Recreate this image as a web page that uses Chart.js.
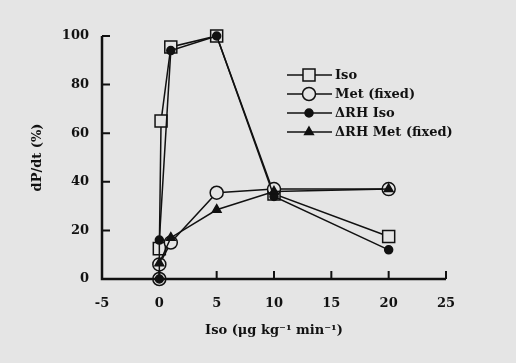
<!DOCTYPE html>
<html>
<head>
<meta charset="utf-8">
<script src="https://cdn.jsdelivr.net/npm/chart.js@4/dist/chart.umd.min.js"></script>
<style>
html,body{margin:0;padding:0;background:#e5e5e5;}
#wrap{width:516px;height:363px;}
</style>
</head>
<body>
<div id="wrap"><canvas id="c" width="516" height="363"></canvas></div>
<script>
// Data
const isoX = [0, 0.15, 1, 5, 10, 20];
const isoY = [12.5, 65, 95.5, 100, 35, 17.5];
const metX = [0, 0, 1, 5, 10, 20];
const metY = [0, 6, 15, 35.5, 37, 37];
const rhIsoX = [0, 0, 1, 5, 10, 20];
const rhIsoY = [0, 16, 94, 100, 34, 12];
const rhMetX = [0, 1, 5, 10, 20];
const rhMetY = [6.5, 17, 28.5, 36, 37];
const seriesNames = ['Iso', 'Met (fixed)', '\u0394RH Iso', '\u0394RH Met (fixed)'];
const xTitle = 'Iso (\u03BCg kg\u207B\u00B9 min\u207B\u00B9)';
const yTitle = 'dP/dt (%)';

const BG = '#e5e5e5';
const INK = '#111111';
const FONT = "'DejaVu Serif', serif";

function pts(xs, ys){ return xs.map((x,i)=>({x:x, y:ys[i]})); }

const styles = [
  {pointStyle:'rect', radius:8.5, bg:BG, order:4},
  {pointStyle:'circle', radius:6.5, bg:BG, order:3},
  {pointStyle:'circle', radius:4, bg:INK, order:2},
  {pointStyle:'triangle', radius:5, bg:INK, order:1}
];
const raw = [[isoX,isoY],[metX,metY],[rhIsoX,rhIsoY],[rhMetX,rhMetY]];

const datasets = raw.map((r,i)=>({
  label: seriesNames[i],
  data: pts(r[0], r[1]),
  showLine: true,
  borderColor: INK,
  borderWidth: 1.5,
  pointStyle: styles[i].pointStyle,
  pointRadius: styles[i].radius,
  pointHoverRadius: styles[i].radius,
  pointBackgroundColor: styles[i].bg,
  pointBorderColor: INK,
  pointBorderWidth: 1.5,
  order: styles[i].order,
  clip: false
}));

const bgPlugin = {
  id:'bg',
  beforeDraw(chart){
    const ctx = chart.ctx;
    ctx.save();
    ctx.fillStyle = BG;
    ctx.fillRect(0,0,chart.width,chart.height);
    ctx.restore();
  }
};

const axesPlugin = {
  id:'axesTicks',
  afterDraw(chart){
    const ctx = chart.ctx;
    const xs = chart.scales.x, ys = chart.scales.y;
    const a = chart.chartArea;
    ctx.save();
    ctx.strokeStyle = INK;
    ctx.lineWidth = 2.5;
    ctx.beginPath();
    ctx.moveTo(a.left, a.top);
    ctx.lineTo(a.left, a.bottom);
    ctx.lineTo(a.right, a.bottom);
    ctx.stroke();
    ctx.lineWidth = 2;
    ctx.beginPath();
    xs.ticks.forEach(t=>{
      const p = xs.getPixelForValue(t.value);
      ctx.moveTo(p, a.bottom);
      ctx.lineTo(p, a.bottom - 8);
    });
    ys.ticks.forEach(t=>{
      const p = ys.getPixelForValue(t.value);
      ctx.moveTo(a.left, p);
      ctx.lineTo(a.left + 8, p);
    });
    ctx.stroke();

    // legend
    const rows = [75, 94, 113, 132];
    const x0 = 287, x1 = 332, xm = 309;
    ctx.font = "bold 13px " + FONT;
    ctx.textBaseline = 'middle';
    ctx.textAlign = 'left';
    rows.forEach((y,i)=>{
      ctx.strokeStyle = INK;
      ctx.lineWidth = 1.5;
      ctx.beginPath();
      ctx.moveTo(x0, y); ctx.lineTo(x1, y);
      ctx.stroke();
      ctx.fillStyle = styles[i].bg;
      ctx.strokeStyle = INK;
      ctx.lineWidth = 1.5;
      Chart.helpers.drawPoint(ctx, {pointStyle: styles[i].pointStyle, radius: styles[i].radius, rotation:0, borderWidth:1.5}, xm, y);
      ctx.fillStyle = INK;
      ctx.fillText(seriesNames[i], x1 + 3, y + 1);
    });
    ctx.restore();
  }
};

new Chart(document.getElementById('c'), {
  type: 'scatter',
  data: { datasets },
  options: {
    responsive: false,
    animation: false,
    events: [],
    layout: { padding: { top: 36, right: 70, left: 0, bottom: 0 } },
    plugins: { legend: { display: false }, tooltip: { enabled: false } },
    scales: {
      x: {
        type: 'linear', min: -5, max: 25,
        grid: { display: false, drawTicks: false },
        border: { display: false },
        ticks: { stepSize: 5, padding: 17, color: INK, font: { family: FONT, size: 13, weight: 'bold' } },
        title: { display: true, text: xTitle, color: INK, font: { family: FONT, size: 13, weight: 'bold' }, padding: { top: 0, bottom: 25 } },
        afterFit(s){ s.height = 84; }
      },
      y: {
        type: 'linear', min: 0, max: 100,
        grid: { display: false, drawTicks: false },
        border: { display: false },
        ticks: { stepSize: 20, padding: 13, color: INK, font: { family: FONT, size: 13, weight: 'bold' } },
        title: { display: true, text: yTitle, color: INK, font: { family: FONT, size: 13, weight: 'bold' }, padding: { top: 30, bottom: 0 } },
        afterFit(s){ s.width = 102; }
      }
    }
  },
  plugins: [bgPlugin, axesPlugin]
});
</script>
</body>
</html>
